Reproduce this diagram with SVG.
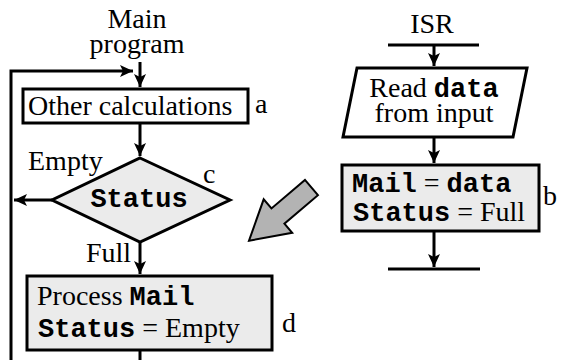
<svg xmlns="http://www.w3.org/2000/svg" width="562" height="360" viewBox="0 0 562 360">
  <style>
    .t { font-family: "Liberation Serif", "Times New Roman", serif; font-size: 28px; fill: #000; }
    .m { font-family: "Liberation Mono", "Courier New", monospace; font-weight: bold; font-size: 27px; }
    .box { stroke: #000; stroke-width: 3; }
    .line { fill: none; stroke: #000; stroke-width: 3; }
  </style>
  <defs>
    <marker id="arrow" markerUnits="userSpaceOnUse" markerWidth="16" markerHeight="14" refX="13" refY="6" orient="auto" viewBox="0 0 16 12">
      <path d="M0,0 L13,6 L0,12 L3,6 Z" fill="#000"/>
    </marker>
  </defs>

  <rect width="562" height="360" fill="#fff"/>

  <!-- connectors -->
  <g id="connectors">
    <!-- main program entry -->
    <path class="line" d="M140,62 V87" marker-end="url(#arrow)"/>
    <!-- loop back from the bottom -->
    <path class="line" d="M11,362 V71 H133" marker-end="url(#arrow)"/>
    <!-- a to c -->
    <path class="line" d="M140,123 V156" marker-end="url(#arrow)"/>
    <!-- c Empty branch -->
    <path class="line" d="M52,200 H14" marker-end="url(#arrow)"/>
    <!-- c Full branch to d -->
    <path class="line" d="M140,242 V274" marker-end="url(#arrow)"/>
    <!-- d to bottom -->
    <path class="line" d="M140,350 V362"/>
    <!-- ISR entry bar and arrow -->
    <path class="line" d="M388,45 H479"/>
    <path class="line" d="M434,45 V66" marker-end="url(#arrow)"/>
    <!-- read to b -->
    <path class="line" d="M434,137 V163" marker-end="url(#arrow)"/>
    <!-- b to ISR exit bar -->
    <path class="line" d="M434,231 V267" marker-end="url(#arrow)"/>
    <path class="line" d="M388,269 H480"/>
  </g>

  <!-- main program title -->
  <g id="main-title">
    <text class="t" x="137" y="28" text-anchor="middle">Main</text>
    <text class="t" x="137" y="53" text-anchor="middle">program</text>
  </g>

  <!-- node a -->
  <g id="node-a">
    <rect class="box" x="23" y="89" width="225" height="34" fill="#fff"/>
    <text class="t" x="28" y="115">Other calculations</text>
    <text class="t" x="255" y="113">a</text>
  </g>

  <!-- node c: decision -->
  <g id="node-c">
    <polygon class="box" points="140,158 230,200 140,242 52,200" fill="#ebebeb"/>
    <text class="t m" x="139" y="207" text-anchor="middle">Status</text>
    <text class="t" x="203" y="183">c</text>
    <text class="t" x="28" y="170">Empty</text>
    <text class="t" x="86" y="262">Full</text>
  </g>

  <!-- node d -->
  <g id="node-d">
    <rect class="box" x="27" y="276" width="245" height="74" fill="#ebebeb"/>
    <text class="t" x="37" y="305">Process <tspan class="m">Mail</tspan></text>
    <text class="t" x="38" y="337"><tspan class="m">Status</tspan> = Empty</text>
    <text class="t" x="282" y="332">d</text>
  </g>

  <!-- ISR title -->
  <g id="isr-title">
    <text class="t" x="432" y="33" text-anchor="middle">ISR</text>
  </g>

  <!-- input node -->
  <g id="node-read">
    <polygon class="box" points="357,68 527,68 513,137 343,137" fill="#fff"/>
    <text class="t" x="434" y="97" text-anchor="middle">Read <tspan class="m">data</tspan></text>
    <text class="t" x="434" y="122" text-anchor="middle">from input</text>
  </g>

  <!-- node b -->
  <g id="node-b">
    <rect class="box" x="342" y="165" width="197" height="66" fill="#ebebeb"/>
    <text class="t" x="352" y="192"><tspan class="m">Mail</tspan> = <tspan class="m">data</tspan></text>
    <text class="t" x="353" y="221"><tspan class="m">Status</tspan> = Full</text>
    <text class="t" x="543" y="205">b</text>
  </g>

  <!-- interrupt indicator arrow -->
  <g id="interrupt-arrow">
    <polygon points="0,0 -38,-22 -38,-10 -82,-10 -82,10 -38,10 -38,22" fill="#b3b3b3" stroke="#000" stroke-width="2" stroke-linejoin="miter" transform="translate(249,240.7) rotate(139.6)"/>
  </g>
</svg>
